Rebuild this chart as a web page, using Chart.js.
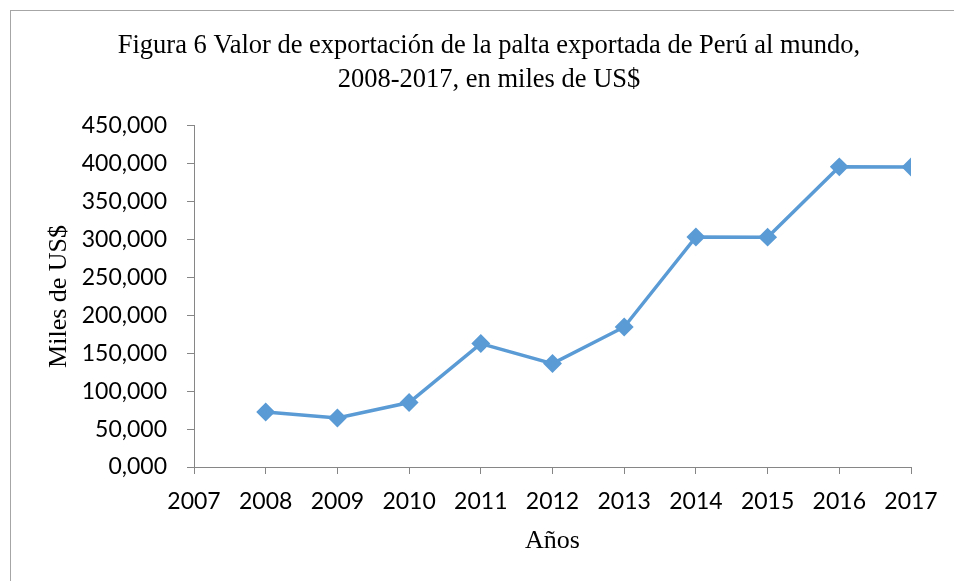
<!DOCTYPE html>
<html>
<head>
<meta charset="utf-8">
<script src="https://cdn.jsdelivr.net/npm/chart.js@4.4.1/dist/chart.umd.min.js"></script>
<style>
  html, body { margin: 0; padding: 0; background: #fff; overflow: hidden; }
  #frame {
    position: absolute; left: 10px; top: 10px;
    width: 2000px; height: 2000px;
    border-left: 1px solid #a6a6a6; border-top: 1px solid #a6a6a6;
  }
  #chart { position: absolute; left: 0; top: 0; }
</style>
</head>
<body>
<div id="frame"></div>
<canvas id="chart" width="954" height="581"></canvas>
<script>
// === Data (miles de US$) ===
const years = [2008, 2009, 2010, 2011, 2012, 2013, 2014, 2015, 2016, 2017];
const exportValues = [72600, 64700, 85000, 162800, 136400, 184700, 303500, 303200, 395900, 395600];
const yTicks = [0, 50000, 100000, 150000, 200000, 250000, 300000, 350000, 400000, 450000];

const titleLines = [
  "Figura 6 Valor de exportación de la palta exportada de Perú al mundo,",
  "2008-2017, en miles de US$"
];

const axisGray = "#868686";
const lineBlue = "#5b9bd5";
const serif = "'Liberation Serif', 'Times New Roman', serif";
const sans = "Lato, 'Noto Sans', sans-serif";

const points = years.map((y, i) => ({ x: y, y: exportValues[i] }));

new Chart(document.getElementById("chart"), {
  type: "line",
  data: {
    datasets: [
      {
        data: points,
        borderColor: lineBlue,
        backgroundColor: lineBlue,
        borderWidth: 3.5,
        pointStyle: "rectRot",
        pointRadius: 7,
        pointHoverRadius: 7,
        tension: 0,
      },
    ],
  },
  options: {
    responsive: false,
    animation: false,
    layout: { padding: { left: 24, right: 0, top: 0, bottom: 0 } },
    plugins: {
      legend: { display: false },
      tooltip: { enabled: false },
      title: {
        display: true,
        text: titleLines,
        color: "#000",
        font: { family: serif, size: 26.5, weight: "normal", lineHeight: 1.28 },
        padding: { top: 29, bottom: 29 },
      },
    },
    scales: {
      x: {
        type: "linear",
        min: 2007,
        max: 2017,
        afterBuildTicks: (s) => {
          s.ticks = [];
          for (let v = 2007; v <= 2017; v++) s.ticks.push({ value: v });
        },
        grid: { drawOnChartArea: false, drawTicks: true, tickLength: 7, color: axisGray },
        border: { color: axisGray, width: 1 },
        ticks: {
          color: "#000",
          padding: 14,
          font: { family: sans, size: 23 },
          callback: (v) => String(v),
          maxRotation: 0,
          autoSkip: false,
        },
        title: {
          display: true,
          text: "Años",
          color: "#000",
          font: { family: serif, size: 26 },
          padding: { top: 0, bottom: 24 },
        },
        afterFit: (s) => { s.height = 114; },
      },
      y: {
        min: 0,
        max: 450000,
        afterBuildTicks: (s) => {
          s.ticks = yTicks.map((v) => ({ value: v }));
        },
        grid: { drawOnChartArea: false, drawTicks: true, tickLength: 7, color: axisGray },
        border: { color: axisGray, width: 1 },
        ticks: {
          color: "#000",
          padding: 20,
          font: { family: sans, size: 23 },
          callback: (v) => (v / 1000) + ",000",
        },
        title: {
          display: true,
          text: "Miles de US$",
          color: "#000",
          font: { family: serif, size: 26 },
          padding: { top: 20, bottom: 0 },
        },
        afterFit: (s) => { s.width = 170; },
      },
      yRight: {
        position: "right",
        min: 0,
        max: 1,
        grid: { display: false, drawTicks: false },
        border: { display: false },
        ticks: { display: false },
        afterFit: (s) => { s.width = 43; },
      },
    },
  },
});
</script>
</body>
</html>
